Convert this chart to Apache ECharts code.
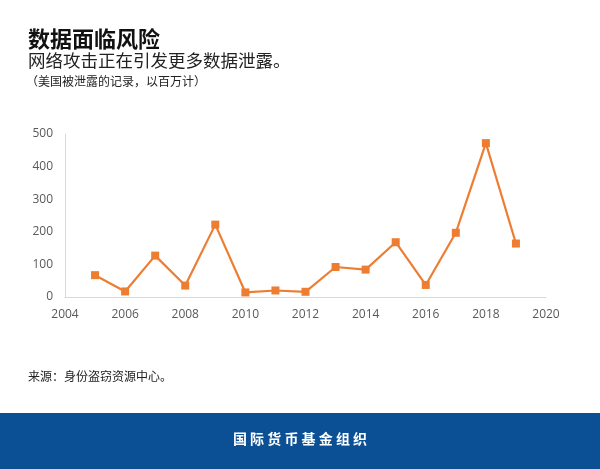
<!DOCTYPE html>
<html>
<head>
<meta charset="utf-8">
<script src="https://cdn.jsdelivr.net/npm/echarts@6/dist/echarts.min.js"></script>
<style>
  html, body { margin: 0; padding: 0; background: #fff; }
  #chart { width: 600px; height: 469px; }
</style>
</head>
<body>
<div id="chart"></div>
<script>
// 美国被泄露的记录（百万）
var years = [2005, 2006, 2007, 2008, 2009, 2010, 2011, 2012, 2013, 2014, 2015, 2016, 2017, 2018, 2019];
var records = [67, 17, 127, 35, 222, 14, 20, 16, 92, 84, 168, 37, 197, 472, 164];

var titleText = '数据面临风险';
var subText = '网络攻击正在引发更多数据泄露。';
var noteText = '（美国被泄露的记录，以百万计）';
var sourceText = '来源：身份盗窃资源中心。';
var footerText = '国际货币基金组织';

var cjk = '"Noto Sans CJK SC", "Noto Sans", sans-serif';
var orange = '#ed7d31';

var points = [];
for (var i = 0; i < years.length; i++) {
  points.push([years[i], records[i]]);
}

var option = {
  backgroundColor: '#fff',
  animation: false,
  title: [{
    text: titleText,
    left: 28,
    top: 28,
    padding: 0,
    textStyle: { fontFamily: cjk, fontSize: 22, fontWeight: 'bold', color: '#111' }
  }, {
    text: subText,
    left: 28,
    top: 52,
    padding: 0,
    textStyle: { fontFamily: cjk, fontSize: 17.5, fontWeight: 'normal', color: '#222' }
  }, {
    text: noteText,
    left: 26,
    top: 75,
    padding: 0,
    textStyle: { fontFamily: cjk, fontSize: 12, fontWeight: 'normal', color: '#222' }
  }, {
    text: sourceText,
    left: 28,
    top: 370,
    padding: 0,
    textStyle: { fontFamily: cjk, fontSize: 12, fontWeight: 'normal', color: '#222' }
  }],
  graphic: [{
    type: 'rect',
    left: 0,
    top: 413,
    shape: { width: 600, height: 56 },
    style: { fill: '#0b4f95' }
  }, {
    type: 'text',
    left: 'center',
    top: 432,
    style: {
      text: footerText.split('').join(' '),
      fill: '#fff',
      font: 'bold 14px "Noto Sans CJK SC", sans-serif'
    }
  }],
  grid: {
    left: 65,
    right: 54,
    top: 134,
    bottom: 172
  },
  xAxis: {
    type: 'value',
    min: 2004,
    max: 2020,
    interval: 2,
    axisLine: { show: true, lineStyle: { color: '#d9d9d9', width: 1 } },
    axisTick: { show: false },
    splitLine: { show: false },
    axisLabel: {
      margin: 12,
      color: '#595959',
      fontSize: 12,
      fontFamily: '"Open Sans", sans-serif',
      formatter: function (v) { return String(v); }
    }
  },
  yAxis: {
    type: 'value',
    min: 0,
    max: 500,
    interval: 100,
    axisLine: { show: true, lineStyle: { color: '#d9d9d9', width: 1 } },
    axisTick: { show: false },
    splitLine: { show: false },
    axisLabel: {
      margin: 12,
      color: '#595959',
      fontSize: 12,
      fontFamily: '"Open Sans", sans-serif'
    }
  },
  series: [{
    type: 'line',
    data: points,
    symbol: 'rect',
    symbolSize: 8,
    lineStyle: { color: orange, width: 2.2 },
    itemStyle: { color: orange }
  }]
};

var myChart = echarts.init(document.getElementById('chart'));
myChart.setOption(option);
</script>
</body>
</html>
